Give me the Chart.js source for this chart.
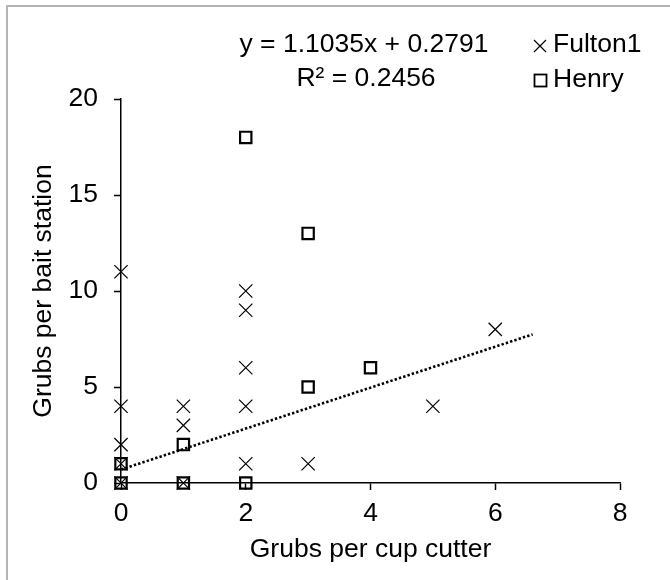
<!DOCTYPE html>
<html>
<head>
<meta charset="utf-8">
<script src="https://cdn.jsdelivr.net/npm/chart.js@4.4.0/dist/chart.umd.min.js"></script>
<style>
  html, body { margin: 0; padding: 0; background: #fff; }
  #wrap { width: 670px; height: 580px; }
</style>
</head>
<body>
<div id="wrap"><canvas id="grubs" width="670" height="580"></canvas></div>
<script>
// values
const fultonX = [0, 0, 0, 0, 0, 1, 1, 1, 2, 2, 2, 2, 2, 3, 5, 6];
const fultonY = [11, 4, 2, 1, 0, 4, 3, 0, 10, 9, 6, 4, 1, 1, 4, 8];
const henryX = [2, 3, 4, 3, 1, 0, 0, 1, 2];
const henryY = [18, 13, 6, 5, 2, 1, 0, 0, 0];
const trendX = [0, 6.6];
const trendY = [0.7, 7.74];
const xTicks = [0, 2, 4, 6, 8];
const yTicks = [0, 5, 10, 15, 20];
const seriesNames = ["Fulton1", "Henry"];
const equationLines = ["y = 1.1035x + 0.2791", "R\u00B2 = 0.2456"];

const FONT = "'Liberation Sans', Arial, sans-serif";
const font = { family: FONT, size: 26.5 };

const toPoints = (xs, ys) => xs.map((x, i) => ({ x: x, y: ys[i] }));

// frame, equation and the little legend in the top right
const extras = {
  id: "extras",
  beforeDraw(chart) {
    const ctx = chart.ctx;
    ctx.save();
    ctx.fillStyle = "#fff";
    ctx.fillRect(0, 0, chart.width, chart.height);
    ctx.strokeStyle = "#b4b4b4";
    ctx.lineWidth = 2;
    ctx.strokeRect(7, 6, 700, 700);
    ctx.restore();
  },
  afterDraw(chart) {
    const ctx = chart.ctx;
    ctx.save();
    ctx.fillStyle = "#000";
    ctx.font = "26.5px " + FONT;
    ctx.textBaseline = "middle";
    ctx.textAlign = "center";
    ctx.fillText(equationLines[0], 364, 45);
    ctx.fillText(equationLines[1], 366, 79);

    ctx.textAlign = "left";
    ctx.fillText(seriesNames[0], 553, 45);
    ctx.fillText(seriesNames[1], 553, 80);

    ctx.strokeStyle = "#000";
    ctx.lineWidth = 1.2;
    ctx.beginPath();
    ctx.moveTo(534, 40); ctx.lineTo(546, 52);
    ctx.moveTo(546, 40); ctx.lineTo(534, 52);
    ctx.stroke();
    ctx.lineWidth = 1.8;
    ctx.strokeRect(534.5, 74.5, 12, 12);
    ctx.restore();
  }
};

new Chart(document.getElementById("grubs"), {
  type: "scatter",
  data: {
    datasets: [
      {
        label: seriesNames[0],
        data: toPoints(fultonX, fultonY),
        pointStyle: "crossRot",
        pointRadius: 9.4,
        pointBorderWidth: 1.2,
        pointBorderColor: "#000",
        pointBackgroundColor: "rgba(0,0,0,0)",
        clip: false,
      },
      {
        label: seriesNames[1],
        data: toPoints(henryX, henryY),
        pointStyle: "rect",
        pointRadius: 8,
        pointBorderWidth: 2.2,
        pointBorderColor: "#000",
        pointBackgroundColor: "rgba(0,0,0,0)",
        clip: false,
      },
      {
        label: "trend",
        data: toPoints(trendX, trendY),
        showLine: true,
        borderColor: "#000",
        borderWidth: 2.6,
        borderDash: [2.4, 2.1],
        pointRadius: 0,
        clip: false,
      },
    ],
  },
  options: {
    responsive: false,
    animation: false,
    layout: { padding: { top: 99, right: 50, bottom: 0, left: 0 } },
    plugins: {
      legend: { display: false },
      tooltip: { enabled: false },
    },
    scales: {
      x: {
        type: "linear",
        position: "bottom",
        min: 0,
        max: 8,
        afterBuildTicks: (s) => { s.ticks = xTicks.map((v) => ({ value: v })); },
        afterFit: (s) => { s.height = 97; },
        grid: { drawOnChartArea: false, drawTicks: true, tickLength: 7, tickColor: "#000", tickWidth: 1.5 },
        border: { display: true, color: "#000", width: 1.5 },
        ticks: { color: "#000", font: font, padding: 8, maxRotation: 0 },
        title: { display: true, text: "Grubs per cup cutter", color: "#000", font: font, padding: { top: 0, bottom: 14 } },
      },
      y: {
        type: "linear",
        position: "left",
        min: 0,
        max: 20,
        afterBuildTicks: (s) => { s.ticks = yTicks.map((v) => ({ value: v })); },
        afterFit: (s) => { s.width = 121; },
        grid: { drawOnChartArea: false, drawTicks: true, tickLength: 7, tickColor: "#000", tickWidth: 1.5 },
        border: { display: true, color: "#000", width: 1.5 },
        ticks: { color: "#000", font: font, padding: 16 },
        title: { display: true, text: "Grubs per bait station", color: "#000", font: font, padding: { top: 28, bottom: 0 } },
      },
    },
  },
  plugins: [extras],
});
</script>
</body>
</html>
